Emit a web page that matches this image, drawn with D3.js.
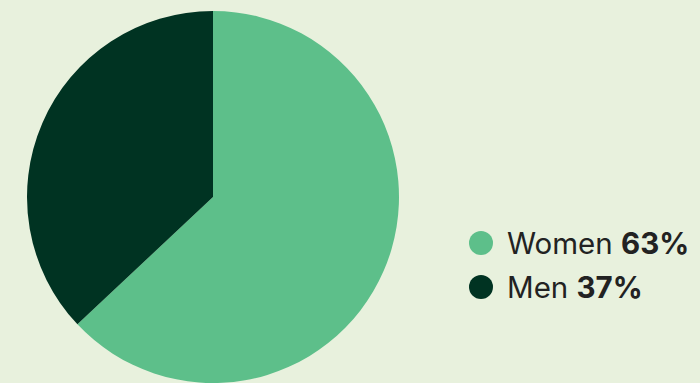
<!DOCTYPE html>
<html><head><meta charset="utf-8">
<script src="https://cdn.jsdelivr.net/npm/d3@7"></script>
<style>html,body{margin:0;padding:0;background:#e8f1dd;overflow:hidden}</style>
</head><body>
<svg id="c" width="700" height="383"></svg>
<script>
const categories = ["Women", "Men"];
const values = [63, 37];
const colors = ["#5dbf8a", "#003322"];

const svg = d3.select("#c");
svg.append("rect").attr("width",700).attr("height",383).attr("fill","#e8f1dd");
const cx = 213, cy = 197, r = 186;
const pie = d3.pie().sort(null).value(d => d)(values);
const arc = d3.arc().innerRadius(0).outerRadius(r);
const g = svg.append("g").attr("transform",`translate(${cx},${cy})`);
g.selectAll("path").data(pie).join("path")
  .attr("d", arc).attr("fill",(d,i)=>colors[i]);

const lg = svg.append("g");
const y = d3.scalePoint().domain(categories).range([243, 287]);
categories.forEach((c,i)=>{
  lg.append("circle").attr("cx",481).attr("cy",y(c)).attr("r",12).attr("fill",colors[i]);
  const t = lg.append("text").attr("x",507).attr("y",y(c)).attr("dy","0.36em")
    .attr("font-family","Inter, 'Noto Sans', sans-serif").attr("font-size",29.5).attr("fill","#222");
  t.append("tspan").text(c + " ");
  t.append("tspan").attr("font-weight","bold").text(values[i] + "%");
});
</script>
</body></html>
